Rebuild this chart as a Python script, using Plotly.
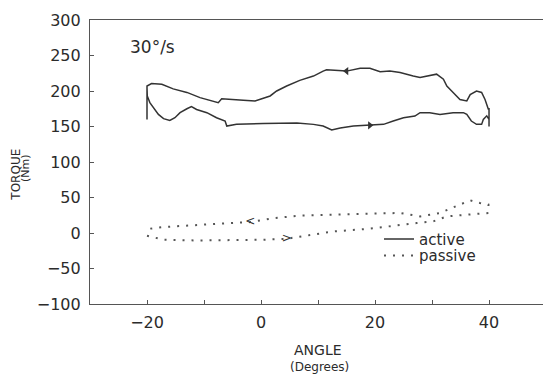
import plotly.graph_objects as go

# ---- data ----
active_angle = [-20, -20, -19.95, -19.5, -18.6, -18.0, -17.1, -16.0, -15.1, -14.2, -13.0, -12.2, -11.3,
                -9.5, -7.8, -6.3, -6.0, -4.3, 0.4, 6.3, 9.2, 10.9, 12.4, 13.9, 16.2, 19.1, 21.5, 23.2,
                25.0, 27.0, 27.9, 29.6, 31.4, 33.7, 35.5, 36.1, 36.9, 37.8, 38.7, 39.0, 39.6, 40.0,
                40.0, 40.0, 39.9, 39.3, 38.7, 37.8, 36.7, 36.1, 34.9, 33.7, 32.6, 32.0, 30.8, 27.9,
                26.7, 24.4, 22.6, 20.9, 19.1, 17.4, 15.0, 11.5, 10.9, 9.2, 6.8, 4.5, 2.75, 1.6,
                -1.05, -3.1, -5.4, -6.9, -7.5, -8.9, -10.7, -13.0, -15.4, -17.4, -19.2, -20.0, -20.0]
active_torque = [160, 205, 193, 183.6, 174, 167, 161, 158.6, 162.4, 169.5, 175, 178, 174,
                 169.5, 162.4, 157.7, 150.6, 153, 154.4, 155, 153, 150.6, 145, 148, 150.6, 151.6, 153, 157.7,
                 162.4, 164.7, 169.5, 169.5, 167, 169.5, 169.5, 167, 157.7, 153, 153, 160, 165, 160,
                 150, 176, 174, 188, 198, 200, 195, 186, 188, 198, 207, 216.6, 223.7, 219,
                 221, 226, 228, 227, 232, 232, 228, 229.8, 228, 221, 215, 207, 200, 193,
                 186, 187, 188, 189, 183.6, 187, 190.7, 198, 203, 209.5, 210.5, 207, 205]

passive_angle = [-20.0, -17.1, -11.3, -5.4, 0.4, 4.5, 9.2, 12.7, 18.5, 24.4, 27.3, 30.2, 32.6, 36.1,
                 39.9, 39.9, 39.9, 38.4, 36.7, 34.9, 31.4, 27.9, 24.4, 18.5, 12.7, 6.8, 2.2, -1.9,
                 -5.4, -11.3, -17.1, -20.0]
passive_torque = [-3.9, -9.5, -10.5, -10.5, -9.5, -8.1, -2.5, 2.2, 5.6, 11.7, 14, 16.3, 23.4, 25.8,
                  28.2, 33, 40, 42.3, 46, 40, 28.2, 23.4, 28.2, 27.2, 25.8, 24.4, 21, 15.4,
                  14, 11.2, 8.4, 5.6]

active_arrow_angle = [15.0, 19.1]
active_arrow_torque = [228, 151.6]
active_arrow_symbol = ["triangle-left", "triangle-right"]

passive_arrow_angle = [-1.9, 4.5]
passive_arrow_torque = [15.4, -8.1]
passive_arrow_text = ["<", ">"]

x_tickvals = [-20, -10, 0, 10, 20, 30, 40]
x_ticktext = ["\u221220", "", "0", "", "20", "", "40"]
y_tickvals = [-100, -50, 0, 50, 100, 150, 200, 250, 300]

LINE = "#333333"
TEXT = "#2b2b2b"
FONT = "DejaVu Sans"

fig = go.Figure()
fig.add_trace(go.Scatter(x=active_angle, y=active_torque, mode="lines", name="active",
                         line=dict(color=LINE, width=1.5), legend="legend"))
fig.add_trace(go.Scatter(x=passive_angle, y=passive_torque, mode="lines", name="passive",
                         line=dict(color="#555555", width=2, dash="2px,7px"), legend="legend2"))
fig.add_trace(go.Scatter(x=active_arrow_angle, y=active_arrow_torque, mode="markers", showlegend=False,
                         marker=dict(symbol=active_arrow_symbol, size=7, color=LINE)))
fig.add_trace(go.Scatter(x=passive_arrow_angle, y=passive_arrow_torque, mode="text", showlegend=False,
                         text=passive_arrow_text,
                         textfont=dict(family=FONT, size=12, color=LINE)))

fig.update_layout(
    width=543, height=374,
    margin=dict(l=90, r=0, t=20, b=70),
    paper_bgcolor="white", plot_bgcolor="white",
    font=dict(family=FONT, color=TEXT, size=16),
    legend=dict(x=0.638, y=0.228, xanchor="left", yanchor="middle", bgcolor="rgba(0,0,0,0)",
                font=dict(family=FONT, size=15, color=TEXT)),
    legend2=dict(x=0.638, y=0.17, xanchor="left", yanchor="middle", bgcolor="rgba(0,0,0,0)",
                 font=dict(family=FONT, size=15, color=TEXT)),
    xaxis=dict(range=[-30, 49.47], tickvals=x_tickvals, ticktext=x_ticktext,
               ticks="inside", ticklen=4, tickcolor="#555555", showgrid=False, zeroline=False,
               showline=True, linecolor="#555555", linewidth=1.2, mirror=True,
               tickfont=dict(family=FONT, size=16, color=TEXT), ticklabelstandoff=4),
    yaxis=dict(range=[-100, 300], tickvals=y_tickvals,
               ticks="inside", ticklen=4, tickcolor="#555555", showgrid=False, zeroline=False,
               showline=True, linecolor="#555555", linewidth=1.2,
               tickfont=dict(family=FONT, size=16, color=TEXT), ticklabelstandoff=5),
    annotations=[
        dict(text="30°/s", xref="paper", yref="paper", x=0.084, y=0.905, xanchor="left",
             yanchor="middle", showarrow=False, font=dict(family=FONT, size=17, color=TEXT)),
        dict(text="TORQUE", xref="paper", yref="paper", x=-0.163, y=0.456, textangle=-90,
             xanchor="center", yanchor="middle", showarrow=False,
             font=dict(family=FONT, size=12, color=TEXT)),
        dict(text="(Nm)", xref="paper", yref="paper", x=-0.141, y=0.479, textangle=-90,
             xanchor="center", yanchor="middle", showarrow=False,
             font=dict(family=FONT, size=11, color=TEXT)),
        dict(text="ANGLE", xref="paper", yref="paper", x=0.503, y=-0.162,
             xanchor="center", yanchor="middle", showarrow=False,
             font=dict(family=FONT, size=14, color=TEXT)),
        dict(text="(Degrees)", xref="paper", yref="paper", x=0.506, y=-0.222,
             xanchor="center", yanchor="middle", showarrow=False,
             font=dict(family=FONT, size=12, color=TEXT)),
    ],
)

fig.write_html("out.html", config={"displayModeBar": False},
               post_script="document.body.style.margin='0';document.body.style.overflow='hidden';")
